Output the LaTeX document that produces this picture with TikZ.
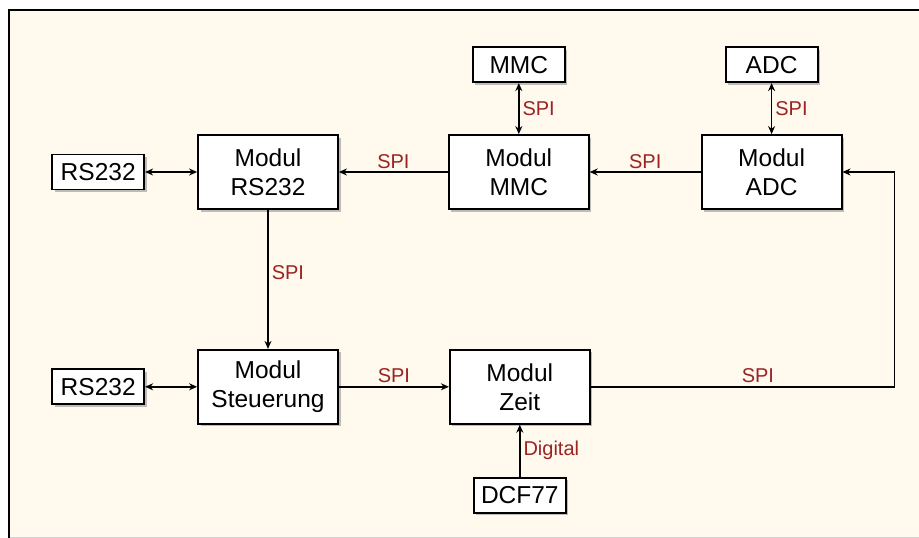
\documentclass[tikz,border=0pt]{standalone}
\usepackage{fontspec}
\setmainfont{Liberation Sans}
\usetikzlibrary{positioning,arrows.meta,shadows}
\definecolor{bg}{RGB}{255,249,238}
\definecolor{spi}{RGB}{155,35,35}

\begin{document}
\begin{tikzpicture}[x=1pt,y=1pt,%
  modul/.style={draw,line width=1.8pt,fill=white,minimum width=140pt,minimum height=74pt,inner sep=0pt,align=center,font=\fontsize{24.5}{29}\selectfont,drop shadow={shadow xshift=2.5pt,shadow yshift=-2.5pt,fill=black!50,opacity=0.5}},%
  dev/.style={draw,line width=1.8pt,fill=white,minimum width=92pt,minimum height=35pt,inner sep=0pt,font=\fontsize{24.5}{29}\selectfont,drop shadow={shadow xshift=2.5pt,shadow yshift=-2.5pt,fill=black!50,opacity=0.5}},%
  arr/.style={-{Stealth[length=8pt,width=7pt]},line width=1.5pt},%
  darr/.style={{Stealth[length=8pt,width=7pt]}-{Stealth[length=8pt,width=7pt]},line width=1.5pt},%
  lbl/.style={text=spi,font=\fontsize{20}{24}\selectfont,inner sep=3pt}%
  ]
  \useasboundingbox (0,0) rectangle (919,-538);
  \fill[bg] (9,-10) rectangle (919,-538);
  \draw[gray!35,line width=1pt] (9,-537) -- (919,-537);
  \draw[line width=2pt] (9,-538) -- (9,-10) -- (919,-10);
%
  \node[modul] (m-rs) at (268,-172) {Modul\\RS232};
  \node[modul] (m-mmc) [right=109pt of m-rs] {Modul\\MMC};
  \node[modul] (m-adc) [right=111pt of m-mmc] {Modul\\ADC};
  \node[modul] (m-st) [below=139pt of m-rs] {Modul\\Steuerung};
  \node[modul] (m-zeit) [right=110pt of m-st] {Modul\\Zeit};
%
  \node[dev] (rs-1) [left=52pt of m-rs] {RS232};
  \node[dev] (rs-2) [left=52pt of m-st] {RS232};
  \node[dev] (mmc) [above=51pt of m-mmc] {MMC};
  \node[dev] (adc) [above=51pt of m-adc] {ADC};
  \node[dev] (dcf) [below=52pt of m-zeit] {DCF77};
%
  \draw[darr] (rs-1) -- (m-rs);
  \draw[darr] (rs-2) -- (m-st);
  \draw[darr] (mmc) -- node[lbl,right] {SPI} (m-mmc);
  \draw[darr] (adc) -- node[lbl,right] {SPI} (m-adc);
%
  \draw[arr] (m-mmc) -- node[lbl,above] {SPI} (m-rs);
  \draw[arr] (m-adc) -- node[lbl,above] {SPI} (m-mmc);
  \draw[arr] (m-rs) -- node[lbl,right,pos=0.45] {SPI} (m-st);
  \draw[arr] (m-st) -- node[lbl,above] {SPI} (m-zeit);
  \draw[arr] (m-zeit.east) -- node[lbl,above,pos=0.55] {SPI} ++(304,0) |- (m-adc.east);
  \draw[arr] (dcf) -- node[lbl,right] {Digital} (m-zeit);
%
\end{tikzpicture}
\end{document}
